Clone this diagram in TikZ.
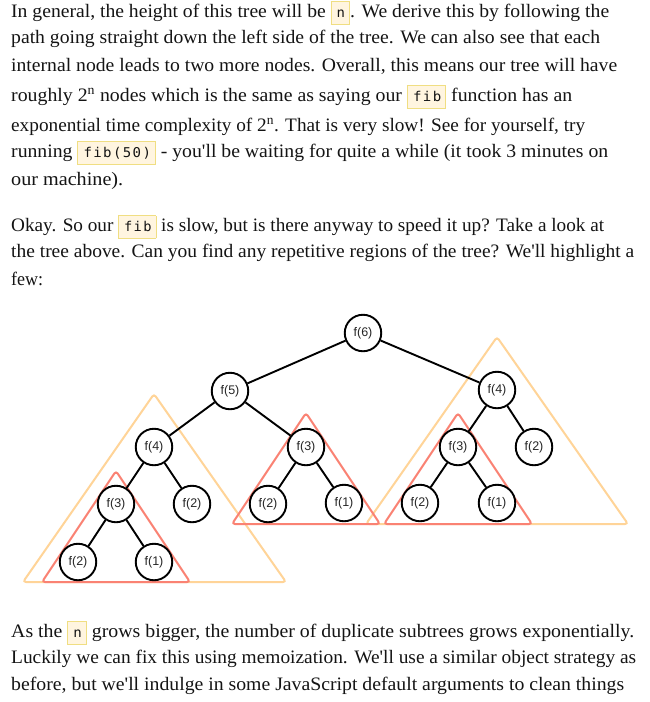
\documentclass[tikz,border=0pt]{standalone}
\usepackage{fontspec}
\usepackage{graphicx}
\setmainfont{Liberation Serif}
\newfontfamily\codefont[LetterSpace=10]{DejaVu Sans Mono}
\newfontfamily\nodefont{Liberation Sans}
\definecolor{orng}{RGB}{255,212,152}
\definecolor{salm}{RGB}{250,130,115}
\definecolor{cbg}{RGB}{255,245,224}
\definecolor{cbd}{RGB}{240,222,130}
\definecolor{txt}{RGB}{20,20,20}
\newcommand\code[1]{{\setlength\fboxsep{3pt}\setlength\fboxrule{0.8pt}\fcolorbox{cbd}{cbg}{\vrule width0pt height12pt depth4pt\hspace{2pt}{\codefont\fontsize{13.5}{13.5}\selectfont #1}\hspace{1pt}}}}
\newcommand\ap{\textquotesingle}
\newcommand\fitline[2]{\setbox0\hbox{#2}\dimen0=\wd0\pgfmathsetmacro\fitf{#1/\the\dimen0}\scalebox{\fitf}[1]{\box0}}
\tikzset{
  para/.style={anchor=base west, inner sep=0pt, text=txt, font=\fontsize{19}{19}\selectfont},
  nd/.style={circle, draw=black, line width=1.9pt, minimum size=36.5pt, inner sep=0pt, fill=white, text=black!85, font=\nodefont\fontsize{12.5}{12.5}\selectfont},
  edge/.style={line width=1.9pt, draw=black},
  otri/.style={draw=orng, line width=2pt, rounded corners=3pt},
  rtri/.style={draw=salm, line width=2pt, rounded corners=3pt}
}
\begin{document}
\begin{tikzpicture}[x=1pt,y=-1pt]
\useasboundingbox[fill=white] (0,0) rectangle (649,702);
% paragraph 1
\node[para] (p1a) at (11,17) {\fitline{598}{In general, the height of this tree will be \code{n}. We derive this by following the}};
\node[para] (p1b) at (11,43) {\fitline{589}{path going straight down the left side of the tree. We can also see that each}};
\node[para] (p1c) at (11,71) {\fitline{606}{internal node leads to two more nodes. Overall, this means our tree will have}};
\node[para] (p1d) at (11,101) {\fitline{561}{roughly 2\textsuperscript{n} nodes which is the same as saying our \code{fib} function has an}};
\node[para] (p1e) at (11,131) {\fitline{574}{exponential time complexity of 2\textsuperscript{n}. That is very slow! See for yourself, try}};
\node[para] (p1f) at (11,157) {\fitline{597}{running \code{fib(50)} - you\ap ll be waiting for quite a while (it took 3 minutes on}};
\node[para] (p1g) at (11,185) {\fitline{112}{our machine).}};
% paragraph 2
\node[para] (p2a) at (11,231) {\fitline{593}{Okay. So our \code{fib} is slow, but is there anyway to speed it up? Take a look at}};
\node[para] (p2b) at (11,257) {\fitline{623}{the tree above. Can you find any repetitive regions of the tree? We\ap ll highlight a}};
\node[para] (p2c) at (11,285) {\fitline{32}{few:}};
% paragraph 3
\node[para] (p3a) at (11,637) {\fitline{623}{As the \code{n} grows bigger, the number of duplicate subtrees grows exponentially.}};
\node[para] (p3b) at (11,663) {\fitline{625}{Luckily we can fix this using memoization. We\ap ll use a similar object strategy as}};
\node[para] (p3c) at (11,690) {\fitline{613}{before, but we\ap ll indulge in some JavaScript default arguments to clean things}};
% highlight triangles
\draw[otri] (154,394) -- (23,582) -- (286,582) -- cycle;
\draw[otri] (497,337) -- (366,524) -- (628,524) -- cycle;
\draw[rtri] (116,471) -- (42,582) -- (190,582) -- cycle;
\draw[rtri] (306,413) -- (232,524) -- (380,524) -- cycle;
\draw[rtri] (458,413) -- (384,524) -- (532,524) -- cycle;
% tree nodes
\node[nd] (f6) at (363,333) {f(6)};
\node[nd] (f5) at (230,391) {f(5)};
\node[nd] (f4r) at (497,390) {f(4)};
\node[nd] (f4l) at (154,447) {f(4)};
\node[nd] (f3m) at (306,447) {f(3)};
\node[nd] (f3r) at (458,447) {f(3)};
\node[nd] (f2r) at (534,447) {f(2)};
\node[nd] (f3l) at (116,504) {f(3)};
\node[nd] (f2a) at (192,504) {f(2)};
\node[nd] (f2m) at (268,504) {f(2)};
\node[nd] (f1m) at (344,503) {f(1)};
\node[nd] (f2b) at (420,503) {f(2)};
\node[nd] (f1b) at (497,503) {f(1)};
\node[nd] (f2c) at (78,562) {f(2)};
\node[nd] (f1c) at (154,562) {f(1)};
% edges
\draw[edge] (f6) -- (f5);
\draw[edge] (f6) -- (f4r);
\draw[edge] (f5) -- (f4l);
\draw[edge] (f5) -- (f3m);
\draw[edge] (f4l) -- (f3l);
\draw[edge] (f4l) -- (f2a);
\draw[edge] (f3l) -- (f2c);
\draw[edge] (f3l) -- (f1c);
\draw[edge] (f3m) -- (f2m);
\draw[edge] (f3m) -- (f1m);
\draw[edge] (f4r) -- (f3r);
\draw[edge] (f4r) -- (f2r);
\draw[edge] (f3r) -- (f2b);
\draw[edge] (f3r) -- (f1b);
\end{tikzpicture}
\end{document}
